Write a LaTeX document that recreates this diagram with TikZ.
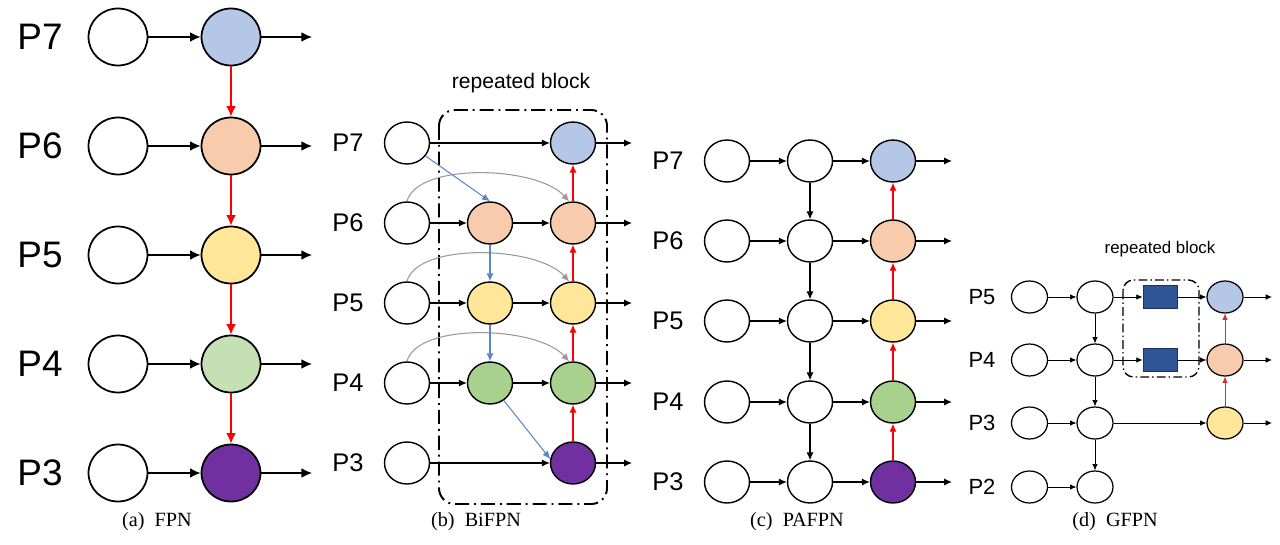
\documentclass[tikz,border=0pt]{standalone}
\usepackage{fontspec}
\setmainfont{Liberation Serif}
\setsansfont{Liberation Sans}
\usetikzlibrary{arrows.meta,shapes.geometric}

\definecolor{c7}{HTML}{B4C7E7}
\definecolor{c6}{HTML}{F8CBAD}
\definecolor{c5}{HTML}{FFE699}
\definecolor{c4}{HTML}{C5E0B4}
\definecolor{c4b}{HTML}{A9D18E}
\definecolor{c3}{HTML}{7030A0}
\definecolor{upred}{HTML}{FF0000}
\definecolor{downblue}{HTML}{5B87C5}
\definecolor{skipgray}{HTML}{999999}
\definecolor{convblue}{HTML}{2F5597}

\begin{document}
\begin{tikzpicture}[x=0.02cm, y=0.02cm,
  feat/.style={ellipse, draw, fill=white, inner sep=0pt, line width=1pt,
    minimum width=1.18cm, minimum height=1.14cm},
  lvl/.style={font=\sffamily\fontsize{21}{21}\selectfont},
  arr/.style={line width=0.8pt, -{Latex[length=6pt,width=5.5pt]}},
  uparr/.style={arr, draw=upred},
  downarr/.style={arr, draw=downblue},
  skiparr/.style={arr, draw=skipgray},
  subcap/.style={font=\fontsize{11.5}{13}\selectfont},
  note/.style={font=\sffamily\fontsize{12}{12}\selectfont},
  repbox/.style={line width=1.1pt, rounded corners=9pt,
    dash pattern=on 8pt off 2.8pt on 1.1pt off 2.8pt},
  convbox/.style={rectangle, draw=convblue!60!black, fill=convblue, line width=0.5pt,
    inner sep=0pt, minimum width=0.68cm, minimum height=0.46cm}]
\useasboundingbox (0,0) rectangle (1280,-544);

% (a) FPN
\foreach \k/\y/\c in {7/37/c7,6/146/c6,5/255/c5,4/364/c4,3/473/c3}{
  \node[lvl] (a-lab\k) at (40,-\y) {P\k};
  \node[feat] (a-in\k) at (118,-\y) {};
  \node[feat, fill=\c] (a-out\k) at (231,-\y) {};
  \coordinate (a-end\k) at (312,-\y);
  \draw[arr] (a-in\k) -- (a-out\k);
  \draw[arr] (a-out\k) -- (a-end\k);
}
\foreach \k/\j in {7/6,6/5,5/4,4/3}
  \draw[uparr] (a-out\k) -- (a-out\j);
\node[subcap] (a-cap) at (157,-522) {(a)\ \ FPN};

% (b) BiFPN
\begin{scope}[feat/.append style={line width=0.8pt, minimum width=0.9cm, minimum height=0.84cm},
  lvl/.style={font=\sffamily\fontsize{14.5}{14.5}\selectfont},
  arr/.style={line width=0.6pt, -{Latex[length=4.5pt,width=4pt]}}]
\draw[repbox] (439,-110) rectangle (607,-504);
\node[note] (b-rep) at (521,-83) {repeated block};
\foreach \k/\y/\c in {7/143/c7,6/223/c6,5/303/c5,4/383/c4b,3/463/c3}{
  \node[lvl] (b-lab\k) at (348,-\y) {P\k};
  \node[feat] (b-in\k) at (407,-\y) {};
  \node[feat, fill=\c] (b-out\k) at (573,-\y) {};
  \coordinate (b-end\k) at (632,-\y);
  \draw[arr] (b-out\k) -- (b-end\k);
}
\foreach \k/\y/\c in {6/223/c6,5/303/c5,4/383/c4b}{
  \node[feat, fill=\c] (b-mid\k) at (490,-\y) {};
  \draw[arr] (b-in\k) -- (b-mid\k);
  \draw[arr] (b-mid\k) -- (b-out\k);
  \draw[skiparr] (b-in\k.north) .. controls +(10,39) and +(-32,36) .. (b-out\k.100);
}
\draw[arr] (b-in7) -- (b-out7);
\draw[arr] (b-in3) -- (b-out3);
\draw[downarr] (b-in7) -- (b-mid6.north);
\draw[downarr] (b-mid6) -- (b-mid5);
\draw[downarr] (b-mid5) -- (b-mid4);
\draw[downarr] (b-mid4) -- (b-out3.170);
\foreach \k/\j in {3/4,4/5,5/6,6/7}
  \draw[uparr] (b-out\k) -- (b-out\j);
\node[subcap] (b-cap) at (476,-522) {(b)\ \ BiFPN};
\end{scope}

% (c) PAFPN
\begin{scope}[feat/.append style={line width=0.8pt, minimum width=0.9cm, minimum height=0.84cm},
  lvl/.style={font=\sffamily\fontsize{14.5}{14.5}\selectfont},
  arr/.style={line width=0.6pt, -{Latex[length=4.5pt,width=4pt]}}]
\foreach \k/\y/\c in {7/161/c7,6/241/c6,5/321/c5,4/402/c4b,3/482/c3}{
  \node[lvl] (c-lab\k) at (668,-\y) {P\k};
  \node[feat] (c-in\k) at (727,-\y) {};
  \node[feat] (c-mid\k) at (810,-\y) {};
  \node[feat, fill=\c] (c-out\k) at (893,-\y) {};
  \coordinate (c-end\k) at (952,-\y);
  \draw[arr] (c-in\k) -- (c-mid\k);
  \draw[arr] (c-mid\k) -- (c-out\k);
  \draw[arr] (c-out\k) -- (c-end\k);
}
\foreach \k/\j in {7/6,6/5,5/4,4/3}{
  \draw[arr] (c-mid\k) -- (c-mid\j);
  \draw[uparr] (c-out\j) -- (c-out\k);
}
\node[subcap] (c-cap) at (797,-522) {(c)\ \ PAFPN};
\end{scope}

% (d) GFPN
\begin{scope}[feat/.append style={line width=0.7pt, minimum width=0.72cm, minimum height=0.64cm},
  lvl/.style={font=\sffamily\fontsize{12.5}{12.5}\selectfont},
  note/.style={font=\sffamily\fontsize{9.6}{9.6}\selectfont},
  arr/.style={line width=0.5pt, -{Latex[length=3.6pt,width=3.2pt]}},
  uparr/.style={arr, draw=upred!75!black!80},
  repbox/.append style={line width=0.8pt, rounded corners=6pt,
    dash pattern=on 5pt off 1.8pt on 0.8pt off 1.8pt}]
\draw[repbox] (1123,-280) rectangle (1199,-377);
\node[note] (d-rep) at (1160,-249) {repeated block};
\foreach \k/\y in {5/297,4/360,3/423,2/487}{
  \node[lvl] (d-lab\k) at (982,-\y) {P\k};
  \node[feat] (d-in\k) at (1029.5,-\y) {};
  \node[feat] (d-mid\k) at (1095,-\y) {};
  \draw[arr] (d-in\k) -- (d-mid\k);
}
\foreach \k/\y/\c in {5/297/c7,4/360/c6,3/423/c5}{
  \node[feat, fill=\c] (d-out\k) at (1225,-\y) {};
  \coordinate (d-end\k) at (1272,-\y);
  \draw[arr] (d-out\k) -- (d-end\k);
}
\foreach \k/\y in {5/297,4/360}{
  \node[convbox] (d-blk\k) at (1160,-\y) {};
  \draw[arr] (d-mid\k) -- (d-blk\k);
  \draw[arr] (d-blk\k) -- (d-out\k);
}
\draw[arr] (d-mid3) -- (d-out3);
\foreach \k/\j in {5/4,4/3,3/2}
  \draw[arr] (d-mid\k) -- (d-mid\j);
\draw[uparr] (d-out3) -- (d-out4);
\draw[uparr] (d-out4) -- (d-out5);
\node[subcap] (d-cap) at (1115,-522) {(d)\ \ GFPN};
\end{scope}
\end{tikzpicture}
\end{document}
